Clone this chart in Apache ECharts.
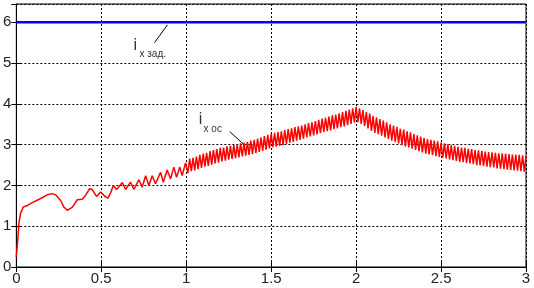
<!DOCTYPE html>
<html>
<head>
<meta charset="utf-8">
<script src="https://cdn.jsdelivr.net/npm/echarts@6/dist/echarts.min.js"></script>
<style>
  html, body { margin: 0; padding: 0; background: #fff; }
  #main { width: 534px; height: 288px; }
</style>
</head>
<body>
<div id="main"></div>
<script>
var xTicks = [0, 0.5, 1, 1.5, 2, 2.5, 3];
var yTicks = [0, 1, 2, 3, 4, 5, 6];

// i_x zad. (reference), constant
var iZad = [[0, 6], [3, 6]];

// i_x oc (feedback)
var iOc = [
  [0, 0.25], [0.009, 0.7], [0.015, 1.07], [0.025, 1.32], [0.041, 1.47], [0.065, 1.51],
  [0.094, 1.58], [0.143, 1.68], [0.182, 1.77], [0.212, 1.80], [0.231, 1.77], [0.261, 1.63],
  [0.28, 1.47], [0.30, 1.39], [0.33, 1.47], [0.359, 1.65], [0.388, 1.66], [0.408, 1.76],
  [0.431, 1.92], [0.447, 1.90], [0.472, 1.73], [0.496, 1.84], [0.506, 1.86], [0.525, 1.72],
  [0.539, 1.69], [0.555, 1.82], [0.571, 2.0], [0.590, 1.9], [0.624, 2.07], [0.643, 1.9],
  [0.672, 2.08], [0.692, 1.9], [0.721, 2.14], [0.741, 1.96], [0.761, 2.24], [0.780, 2.0],
  [0.80, 2.24], [0.819, 2.04], [0.849, 2.32], [0.865, 2.08], [0.888, 2.38], [0.908, 2.16],
  [0.927, 2.45], [0.943, 2.2], [0.962, 2.45], [0.976, 2.24], [0.996, 2.55],
  [1.01, 2.31], [1.02, 2.66], [1.03, 2.35], [1.04, 2.68], [1.05, 2.37], [1.06, 2.71],
  [1.07, 2.40], [1.08, 2.75], [1.09, 2.43], [1.10, 2.78], [1.11, 2.46], [1.12, 2.80],
  [1.13, 2.48], [1.14, 2.84], [1.15, 2.51], [1.16, 2.87], [1.17, 2.54], [1.18, 2.89],
  [1.19, 2.56], [1.20, 2.92], [1.21, 2.59], [1.22, 2.93], [1.23, 2.61], [1.24, 2.96],
  [1.25, 2.63], [1.26, 2.97], [1.27, 2.65], [1.28, 2.99], [1.29, 2.67], [1.30, 3.00],
  [1.31, 2.69], [1.32, 3.03], [1.33, 2.71], [1.34, 3.05], [1.35, 2.73], [1.36, 3.07],
  [1.37, 2.75], [1.38, 3.10], [1.39, 2.77], [1.40, 3.12], [1.41, 2.79], [1.42, 3.15],
  [1.43, 2.82], [1.44, 3.18], [1.45, 2.85], [1.46, 3.21], [1.47, 2.88], [1.48, 3.24],
  [1.49, 2.91], [1.50, 3.27], [1.51, 2.94], [1.52, 3.29], [1.53, 2.95], [1.54, 3.31],
  [1.55, 2.97], [1.56, 3.33], [1.57, 2.99], [1.58, 3.36], [1.59, 3.02], [1.60, 3.38],
  [1.61, 3.05], [1.62, 3.40], [1.63, 3.07], [1.64, 3.43], [1.65, 3.10], [1.66, 3.45],
  [1.67, 3.12], [1.68, 3.47], [1.69, 3.15], [1.70, 3.50], [1.71, 3.18], [1.72, 3.53],
  [1.73, 3.20], [1.74, 3.55], [1.75, 3.23], [1.76, 3.58], [1.77, 3.25], [1.78, 3.61],
  [1.79, 3.28], [1.80, 3.64], [1.81, 3.31], [1.82, 3.66], [1.83, 3.33], [1.84, 3.69],
  [1.85, 3.35], [1.86, 3.72], [1.87, 3.38], [1.88, 3.74], [1.89, 3.40], [1.90, 3.77],
  [1.91, 3.43], [1.92, 3.80], [1.93, 3.45], [1.94, 3.83], [1.95, 3.48], [1.96, 3.86],
  [1.97, 3.51], [1.98, 3.89], [1.99, 3.54], [2.00, 3.93], [2.01, 3.55], [2.02, 3.89],
  [2.03, 3.51], [2.04, 3.85], [2.05, 3.46], [2.06, 3.80], [2.07, 3.40], [2.08, 3.76],
  [2.09, 3.34], [2.10, 3.70], [2.11, 3.29], [2.12, 3.67], [2.13, 3.26], [2.14, 3.63],
  [2.15, 3.22], [2.16, 3.59], [2.17, 3.18], [2.18, 3.55], [2.19, 3.14], [2.20, 3.50],
  [2.21, 3.10], [2.22, 3.47], [2.23, 3.07], [2.24, 3.44], [2.25, 3.03], [2.26, 3.39],
  [2.27, 2.99], [2.28, 3.37], [2.29, 2.96], [2.30, 3.33], [2.31, 2.93], [2.32, 3.30],
  [2.33, 2.90], [2.34, 3.26], [2.35, 2.87], [2.36, 3.23], [2.37, 2.84], [2.38, 3.20],
  [2.39, 2.81], [2.40, 3.16], [2.41, 2.78], [2.42, 3.14], [2.43, 2.76], [2.44, 3.12],
  [2.45, 2.74], [2.46, 3.10], [2.47, 2.72], [2.48, 3.08], [2.49, 2.70], [2.50, 3.05],
  [2.51, 2.68], [2.52, 3.03], [2.53, 2.66], [2.54, 3.01], [2.55, 2.64], [2.56, 2.99],
  [2.57, 2.62], [2.58, 2.97], [2.59, 2.60], [2.60, 2.95], [2.61, 2.58], [2.62, 2.93],
  [2.63, 2.57], [2.64, 2.92], [2.65, 2.55], [2.66, 2.90], [2.67, 2.54], [2.68, 2.89],
  [2.69, 2.52], [2.70, 2.87], [2.71, 2.50], [2.72, 2.86], [2.73, 2.49], [2.74, 2.85],
  [2.75, 2.48], [2.76, 2.83], [2.77, 2.46], [2.78, 2.82], [2.79, 2.45], [2.80, 2.81],
  [2.81, 2.44], [2.82, 2.80], [2.83, 2.42], [2.84, 2.79], [2.85, 2.41], [2.86, 2.79],
  [2.87, 2.40], [2.88, 2.78], [2.89, 2.39], [2.90, 2.77], [2.91, 2.38], [2.92, 2.76],
  [2.93, 2.37], [2.94, 2.76], [2.95, 2.36], [2.96, 2.75], [2.97, 2.35], [2.98, 2.74],
  [2.99, 2.34], [3.00, 2.73]
];

var chart = echarts.init(document.getElementById('main'));

var gridLine = { show: true, lineStyle: { color: '#000', type: [2, 2], width: 1 } };
var tickIn = { show: true, inside: true, length: 5, lineStyle: { color: '#000' } };
var fontBase = { color: '#222', fontSize: 15, fontFamily: 'Liberation Sans, Arial, sans-serif' };

var option = {
  animation: false,
  backgroundColor: '#fff',
  grid: { left: 16, right: 8, top: 4, bottom: 21, show: true, borderColor: '#000', borderWidth: 1 },
  xAxis: [
    {
      type: 'value', min: 0, max: 3, interval: 0.5,
      axisLine: { show: true, lineStyle: { color: '#000' } },
      axisTick: tickIn,
      splitLine: gridLine,
      axisLabel: Object.assign({ margin: 4, formatter: function (v) { return xTicks.indexOf(v) >= 0 ? String(v) : ''; } }, fontBase)
    },
    {
      type: 'value', min: 0, max: 3, interval: 0.5, position: 'top',
      axisLine: { show: false }, axisTick: tickIn, axisLabel: { show: false }, splitLine: { show: false }
    }
  ],
  yAxis: [
    {
      type: 'value', min: 0, max: 6.45, interval: 1,
      axisLine: { show: true, lineStyle: { color: '#000' } },
      axisTick: tickIn,
      splitLine: gridLine,
      axisLabel: Object.assign({ margin: 5, showMaxLabel: false, formatter: function (v) { return yTicks.indexOf(v) >= 0 ? String(v) : ''; } }, fontBase)
    },
    {
      type: 'value', min: 0, max: 6.45, interval: 1, position: 'right',
      axisLine: { show: false }, axisTick: tickIn, axisLabel: { show: false }, splitLine: { show: false }
    }
  ],
  series: [
    {
      name: 'i_zad', type: 'line', data: iZad, showSymbol: false, symbol: 'none',
      lineStyle: { color: '#0000ff', width: 2.5 }, z: 3
    },
    {
      name: 'i_oc', type: 'line', data: iOc, showSymbol: false, symbol: 'none', sampling: false,
      lineStyle: { color: '#ff0000', width: 1.5 }, z: 2
    }
  ]
};
chart.setOption(option);

// annotations anchored in data coordinates
function px(p) { return chart.convertToPixel({ gridIndex: 0 }, p); }
function label(mainAt, subAt, subText, from, to) {
  var a = px(mainAt), b = px(subAt), f = px(from), t = px(to);
  return [
    { type: 'text', x: a[0], y: a[1], style: { text: 'i', fontSize: 16, fill: '#333', fontFamily: 'Liberation Sans, Arial, sans-serif' } },
    { type: 'text', x: b[0], y: b[1], style: { text: subText, fontSize: 10, fill: '#333', fontFamily: 'Liberation Sans, Arial, sans-serif' } },
    { type: 'line', shape: { x1: f[0], y1: f[1], x2: t[0], y2: t[1] }, style: { stroke: '#000', lineWidth: 1 } }
  ];
}
chart.setOption({
  graphic: label([0.69, 5.63], [0.725, 5.34], 'х зад.', [0.813, 5.5], [0.89, 5.94])
    .concat(label([1.074, 3.80], [1.102, 3.51], 'х ос', [1.256, 3.32], [1.335, 3.02]))
});
</script>
</body>
</html>
